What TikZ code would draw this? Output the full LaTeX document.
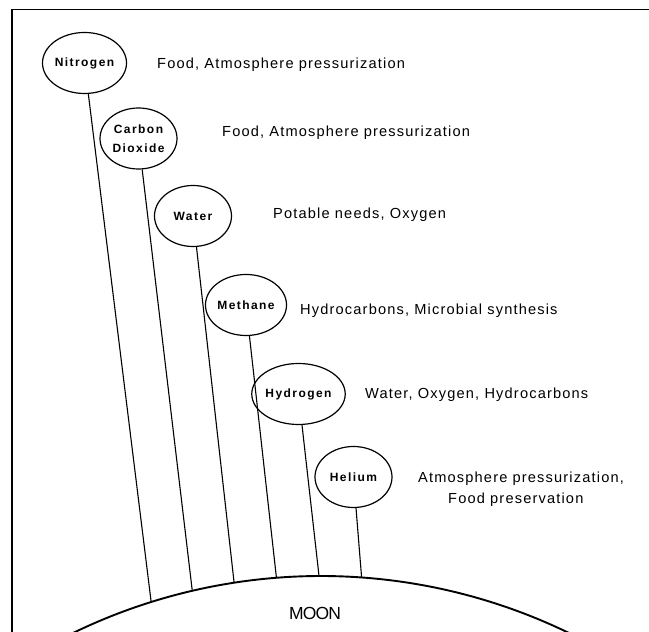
\documentclass[tikz,border=0pt]{standalone}
\usepackage{fontspec}
\setmainfont{Liberation Sans}
\newfontfamily\gasfont[LetterSpace=12]{Liberation Sans}
\newfontfamily\descfont[LetterSpace=8]{Liberation Sans}
\newfontfamily\moonfont[LetterSpace=-5]{Liberation Sans}
\usetikzlibrary{shapes.geometric}

\begin{document}
\begin{tikzpicture}[x=1pt,y=1pt,
    gas/.style={draw,ellipse,line width=1.2pt,minimum width=77pt,
      minimum height=61pt,inner sep=0pt,align=center,
      font=\gasfont\bfseries\fontsize{12}{19}\selectfont},
    use/.style={right,inner sep=0pt,align=left,
      font=\descfont\fontsize{14.6}{21}\selectfont},
    tether/.style={line width=1.1pt}]
  \useasboundingbox (0,0) rectangle (649,632);
  %% frame
  \draw[line width=1.6pt] (12,0) -- (12,622.5) -- (649,622.5);
  %% moon surface
  \coordinate (c) at (321,-512);
  \draw[line width=1.9pt] (c) ++(116:568)
       arc[start angle=116,end angle=64,radius=568];
  \node[font=\moonfont\fontsize{17.5}{17.5}\selectfont] (moon) at (315,19){MOON};
  %% gases
  \node[gas] (N2)  at (84.5,569){Nitrogen};
  \node[gas] (CO2) at (138.5,493.5){Carbon\\Dioxide};
  \node[gas] (H2O) at (193,416){Water};
  \node[gas] (CH4) at (246,327){Methane};
  \node[gas] (H2)  at (298.5,238){Hydrogen};
  \node[gas] (He)  at (353.5,155){Helium};
  %% tethers down to the surface
  \foreach \g/\a in {N2/107.4,CO2/103.1,H2O/98.8,CH4/94.5,H2/90.2,He/85.9}{
    \path (c) ++(\a:568) coordinate (f-\g);
    \draw[tether] (\g) -- (f-\g);
  }
  %% uses
  \node[use] (uN2)  at (157,567){Food, Atmosphere pressurization};
  \node[use] (uCO2) at (222,499){Food, Atmosphere pressurization};
  \node[use] (uH2O) at (273,417){Potable needs, Oxygen};
  \node[use] (uCH4) at (300,321){Hydrocarbons, Microbial synthesis};
  \node[use] (uH2)  at (365,237){Water, Oxygen, Hydrocarbons};
  \node[use] (uHe)  at (418,142.5)
       {Atmosphere pressurization,\\\hspace*{30pt}Food preservation};
\end{tikzpicture}
\end{document}
